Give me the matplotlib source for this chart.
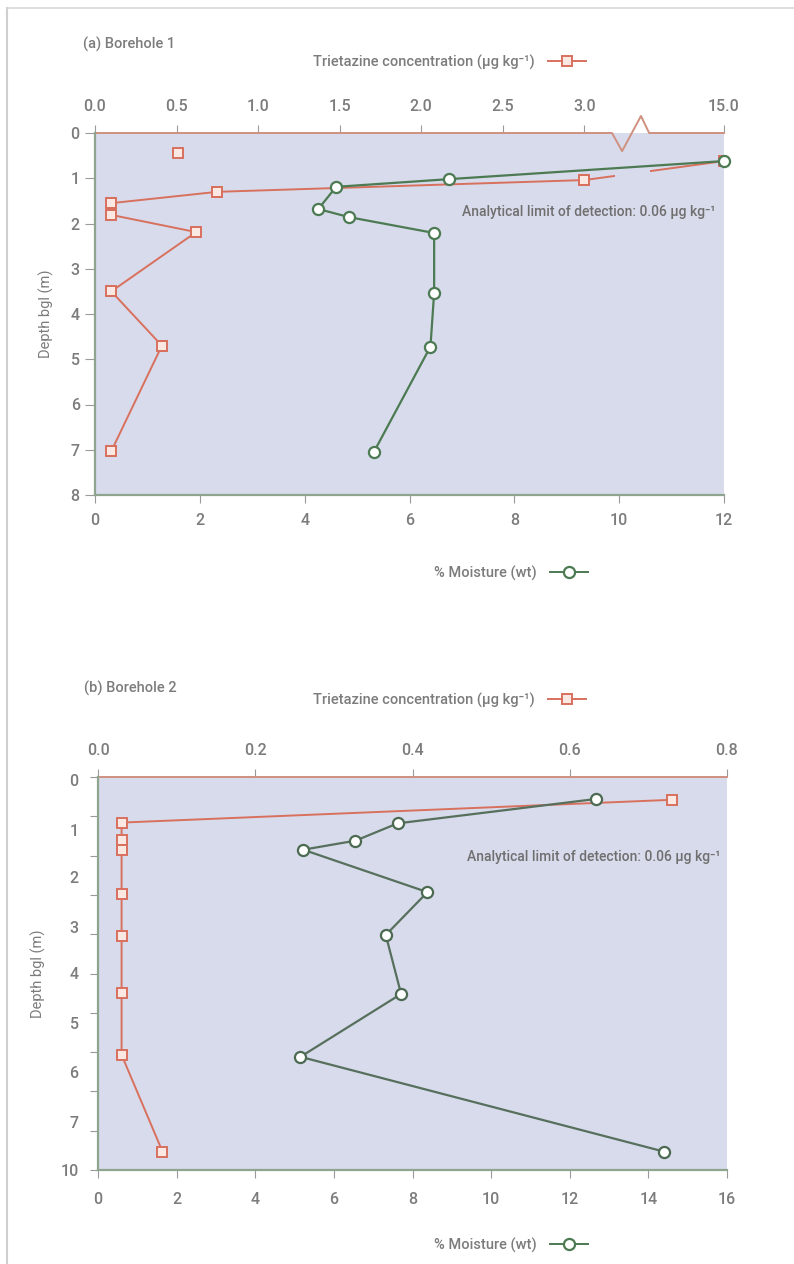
import numpy as np
import matplotlib
matplotlib.use("Agg")
import matplotlib.pyplot as plt
from matplotlib.lines import Line2D
from matplotlib.path import Path

plt.rcParams['font.family'] = ['Roboto', 'DejaVu Sans']
plt.rcParams['font.weight'] = 'medium'

# ---- data ----
# Borehole 1
depth_moist_a = [0.62, 1.02, 1.19, 1.68, 1.86, 2.21, 3.53, 4.72, 7.05]
moist_a = [12.0, 6.75, 4.6, 4.26, 4.85, 6.47, 6.47, 6.4, 5.32]
depth_conc_a = [0.62, 1.04, 1.30, 1.55, 1.81, 2.19, 3.50, 4.70, 7.03]
conc_a = [15.0, 3.0, 0.75, 0.10, 0.10, 0.62, 0.10, 0.41, 0.10]
depth_conc_a_single = [0.44]
conc_a_single = [0.51]

# Borehole 2
depth_moist_b = [0.56, 1.18, 1.62, 1.85, 2.93, 4.02, 5.52, 7.12, 9.53]
moist_b = [12.66, 7.62, 6.55, 5.22, 8.38, 7.32, 7.71, 5.15, 14.39]
depth_conc_b = [0.58, 1.16, 1.60, 1.85, 2.98, 4.05, 5.50, 7.07, 9.53]
conc_b = [0.73, 0.03, 0.03, 0.03, 0.03, 0.03, 0.03, 0.03, 0.082]

moist_ticks_a = [0, 2, 4, 6, 8, 10, 12]
moist_ticks_b = [0, 2, 4, 6, 8, 10, 12, 14, 16]
conc_ticks_a = [0.0, 0.5, 1.0, 1.5, 2.0, 2.5, 3.0, 15.0]
conc_ticks_b = [0.0, 0.2, 0.4, 0.6, 0.8]
depth_ticks_a = [0, 1, 2, 3, 4, 5, 6, 7, 8]
depth_ticks_b = [0, 1, 2, 3, 4, 5, 6, 7, 8, 9, 10]
depth_label_pos_b = [0.08, 1.35, 2.54, 3.82, 4.99, 6.26, 7.5, 8.78, 10.0]
depth_label_txt_b = ['0', '1', '2', '3', '4', '5', '6', '7', '10']

BG = '#d8dbeb'
RED = '#d8705e'
RED_FACE = '#fbe8e2'
GREEN = '#4c7a52'
SPINE_G = '#8ea48f'
SPINE_R = '#cf907f'
GREY = '#7c7c7c'
TICKC = '#9a9a9a'

# broken concentration axis for borehole 1
BRK = 3.25
CMP = (12 / 3.112 - BRK) / (15.0 - BRK)


def fwd(c):
    c = np.asarray(c, dtype=float)
    return np.where(c <= BRK, c, BRK + (c - BRK) * CMP)


def inv(x):
    x = np.asarray(x, dtype=float)
    return np.where(x <= BRK, x, BRK + (x - BRK) / CMP)


fig = plt.figure(figsize=(7.94, 12.64), dpi=100)

# light frame of the scanned page
fig.add_artist(Line2D([7 / 794, 7 / 794], [0, 1 - 8 / 1264], color='#cfcfcf', lw=1.5))
fig.add_artist(Line2D([7 / 794, 1], [1 - 8 / 1264, 1 - 8 / 1264], color='#d8d8d8', lw=1.2))


def style_axes(ax, ax2):
    ax.set_zorder(2)
    ax.patch.set_visible(False)
    ax2.set_zorder(1)
    ax2.patch.set_visible(True)
    ax2.patch.set_facecolor(BG)
    for s in ['top', 'right']:
        ax.spines[s].set_visible(False)
    ax.spines['left'].set_color(SPINE_G)
    ax.spines['bottom'].set_color(SPINE_G)
    ax.spines['left'].set_linewidth(1.6)
    ax.spines['bottom'].set_linewidth(1.6)
    for s in ['left', 'right', 'bottom']:
        ax2.spines[s].set_visible(False)
    ax2.spines['top'].set_color(SPINE_R)
    ax2.spines['top'].set_linewidth(1.4)
    ax.tick_params(axis='x', direction='out', length=6, color=TICKC, labelcolor=GREY,
                   labelsize=11.5, pad=7)
    ax.tick_params(axis='y', direction='out', length=7, color=TICKC, labelcolor=GREY,
                   labelsize=11.5, pad=4)
    ax2.tick_params(axis='x', direction='out', length=6, color=TICKC, labelcolor=GREY,
                    labelsize=11.5, pad=8)


def legend_at(ax, handle, text, x, y):
    lg = ax.legend(handles=[handle], labels=[text], loc='center right',
                   bbox_to_anchor=(x, y), bbox_transform=fig.transFigure,
                   frameon=False, markerfirst=False, handlelength=2.6,
                   handletextpad=0.9, borderpad=0, fontsize=10.5, labelcolor=GREY)
    return lg


red_proxy = Line2D([], [], color=RED, lw=1.4, marker='s', ms=6.5, mfc=RED_FACE,
                   mec=RED, mew=1.4)
green_proxy = Line2D([], [], color=GREEN, lw=1.4, marker='o', ms=8, mfc='white',
                     mec=GREEN, mew=1.6)

# ---------------- (a) Borehole 1 ----------------
axa = fig.add_axes([95 / 794, 1 - 495 / 1264, 629 / 794, 362 / 1264])
axa2 = axa.twiny()
style_axes(axa, axa2)
axa2.spines['top'].set_visible(False)

axa.plot(moist_a, depth_moist_a, color=GREEN, lw=1.6, marker='o', ms=8,
         mfc='white', mec=GREEN, mew=1.6, zorder=3, clip_on=False)
axa.set_xlim(0, 12)
axa.set_ylim(8, 0)
axa.set_xticks(moist_ticks_a)
axa.set_yticks(depth_ticks_a)
axa.set_xticklabels([str(t) for t in moist_ticks_a])

axa2.set_xscale('function', functions=(fwd, inv))
axa2.set_xlim(0, 15.0)
axa2.set_xticks(conc_ticks_a)
axa2.set_xticklabels(['%.1f' % t for t in conc_ticks_a])
red_line, = axa2.plot(conc_a, depth_conc_a, color=RED, lw=1.4, marker='s', ms=6.5,
                      mfc=RED_FACE, mec=RED, mew=1.4)
axa2.plot(conc_a_single, depth_conc_a_single, ls='none', marker='s', ms=6.5,
          mfc=RED_FACE, mec=RED, mew=1.4)

# gap of the red line across the axis break
gl, gr = 3.19 / 3.856, 3.40 / 3.856
clip = Path.make_compound_path(
    Path([(-0.1, -0.1), (gl, -0.1), (gl, 1.1), (-0.1, 1.1), (-0.1, -0.1)], closed=True),
    Path([(gr, -0.1), (1.1, -0.1), (1.1, 1.1), (gr, 1.1), (gr, -0.1)], closed=True))
red_line.set_clip_path(clip, axa2.transAxes)

# top spine with the break symbol
axa2.plot([0, 0.822, 0.838, 0.868, 0.881, 1.0], [1, 1, 0.95, 1.047, 1, 1],
          transform=axa2.transAxes, color=SPINE_R, lw=1.4, clip_on=False)

axa.set_ylabel('Depth bgl (m)', color=GREY, fontsize=10.5, labelpad=12)
axa.text(0.987, 0.782, 'Analytical limit of detection: 0.06 \u00b5g kg\u207b\u00b9',
         transform=axa.transAxes, ha='right', va='center', color='#6f6f6f', fontsize=10)
fig.text(83 / 794, 1 - 44 / 1264, '(a) Borehole 1', color=GREY, fontsize=10.5,
         ha='left', va='center')
legend_at(axa2, red_proxy, 'Trietazine concentration (\u00b5g kg\u207b\u00b9)',
          593 / 794, 1 - 62 / 1264)
legend_at(axa, green_proxy, '% Moisture (wt)', 595 / 794, 1 - 573 / 1264)

# ---------------- (b) Borehole 2 ----------------
axb = fig.add_axes([98 / 794, 1 - 1170 / 1264, 629 / 794, 393 / 1264])
axb2 = axb.twiny()
style_axes(axb, axb2)

axb.plot(moist_b, depth_moist_b, color='#56705d', lw=1.6, marker='o', ms=8,
         mfc='white', mec='#4c6a52', mew=1.6, zorder=3, clip_on=False)
axb.set_xlim(0, 16)
axb.set_ylim(10, 0)
axb.set_xticks(moist_ticks_b)
axb.set_xticklabels([str(t) for t in moist_ticks_b])
axb.yaxis.remove_overlapping_locs = False
axb.set_yticks(depth_ticks_b)
axb.set_yticklabels([])
axb.set_yticks(depth_label_pos_b, minor=True)
axb.set_yticklabels(depth_label_txt_b, minor=True)
axb.tick_params(axis='y', which='major', length=6)
axb.tick_params(axis='y', which='minor', length=0, pad=14, labelcolor=GREY,
                labelsize=11.5)
axb.tick_params(axis='x', pad=10)

axb2.set_xlim(0, 0.8)
axb2.set_xticks(conc_ticks_b)
axb2.set_xticklabels(['%.1f' % t for t in conc_ticks_b])
axb2.plot(conc_b, depth_conc_b, color=RED, lw=1.4, marker='s', ms=6.5,
          mfc=RED_FACE, mec=RED, mew=1.4)

axb.set_ylabel('Depth bgl (m)', color=GREY, fontsize=10.5, labelpad=10)
axb.text(0.99, 0.796, 'Analytical limit of detection: 0.06 \u00b5g kg\u207b\u00b9',
         transform=axb.transAxes, ha='right', va='center', color='#6f6f6f', fontsize=10)
fig.text(84 / 794, 1 - 688 / 1264, '(b) Borehole 2', color=GREY, fontsize=10.5,
         ha='left', va='center')
legend_at(axb2, red_proxy, 'Trietazine concentration (\u00b5g kg\u207b\u00b9)',
          593 / 794, 1 - 700 / 1264)
legend_at(axb, green_proxy, '% Moisture (wt)', 595 / 794, 1 - 1245 / 1264)

fig.savefig('out.png', dpi=100)
